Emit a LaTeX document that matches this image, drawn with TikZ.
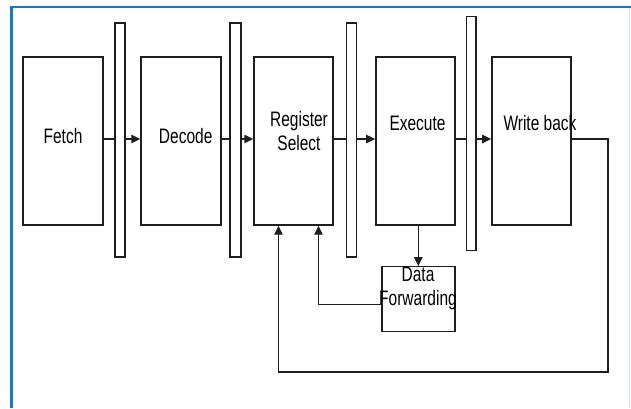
\documentclass[tikz,border=0pt]{standalone}
\usepackage{fontspec}
\setmainfont{Liberation Sans}
\usetikzlibrary{arrows.meta}
\definecolor{frameblue}{RGB}{22,120,208}
\definecolor{paleblue}{RGB}{210,228,246}
\definecolor{ink}{RGB}{30,30,30}
\newcommand{\tall}[1]{\scalebox{1}[1.35]{#1}}

\begin{document}
\begin{tikzpicture}[x=1pt,y=-1pt]
        \tikzstyle{stage}=[draw=ink, line width=1.4pt, inner sep=0pt,
        minimum width=80pt, minimum height=168pt]
        \tikzstyle{latch}=[draw=ink, line width=1.4pt, inner sep=0pt,
        minimum width=10pt, minimum height=234pt]
        \tikzstyle{txt}=[inner sep=0pt, text=black, align=center,
        font=\fontsize{15.5}{24}\selectfont]
        \tikzstyle{wire}=[ink, line width=1.4pt, -{Triangle[length=9pt,width=8.5pt]}]

        \useasboundingbox (0,0) rectangle (631,408);
        %-----frame
        \draw[frameblue, line width=2.2pt] (11.5,408) -- (11.5,7) -- (631,7);
        \draw[paleblue, line width=1pt] (629.5,8) -- (629.5,408);

        %-----stages
         \node[stage] (F) at (63,141) {};
         \node[stage] (D) at (181,141) {};
         \node[stage, minimum width=79pt] (RS) at (293.5,141) {};
         \node[stage, minimum width=79pt] (EX) at (415.3,141) {};
         \node[stage, minimum width=79pt] (WB) at (531.3,141) {};
         \node[stage, minimum width=73pt, minimum height=65pt] (DF) at (418.3,299.2) {};

        %-----pipeline registers
         \node[latch] (L1) at (120,140) {};
         \node[latch, minimum width=11pt] (L2) at (235.5,140) {};
         \node[latch] (L3) at (351.7,140) {};
         \node[latch, minimum width=9.5pt] (L4) at (471.3,133.3) {};

        %-----labels
         \node[txt] (Ft) at (63,136) {\tall{Fetch}};
         \node[txt] (Dt) at (185.7,136) {\tall{Decode}};
         \node[txt] (RSt) at (299,131) {\tall{Register}\\\tall{Select}};
         \node[txt] (EXt) at (417.5,123) {\tall{Execute}};
         \node[txt] (WBt) at (540,123) {\tall{Write back}};
         \node[txt] (DFt) at (418,288) {\tall{Data}\\\tall{Forwarding}};

         \coordinate (back) at (608,372);

         \foreach \from/\via/\to in {F/L1/D, D/L2/RS, RS/L3/EX, EX/L4/WB}{
         \draw[ink, line width=1.4pt] ([yshift=2pt]\from.east) -- ([yshift=2pt]\from.east -| \via.west);
         \draw[wire] ([yshift=2pt]\from.east -| \via.east) -- ([yshift=2pt]\from.east -| \to.west);
         }

          \draw[wire] (DF.north |- EX.south) -- (DF.north);
          \draw[wire] ([yshift=-5pt]DF.west) -| ([xshift=25pt]RS.south);
          \draw[wire] ([yshift=2pt]WB.east) -| (back) -| ([xshift=-15pt]RS.south);

\end{tikzpicture}
\end{document}
